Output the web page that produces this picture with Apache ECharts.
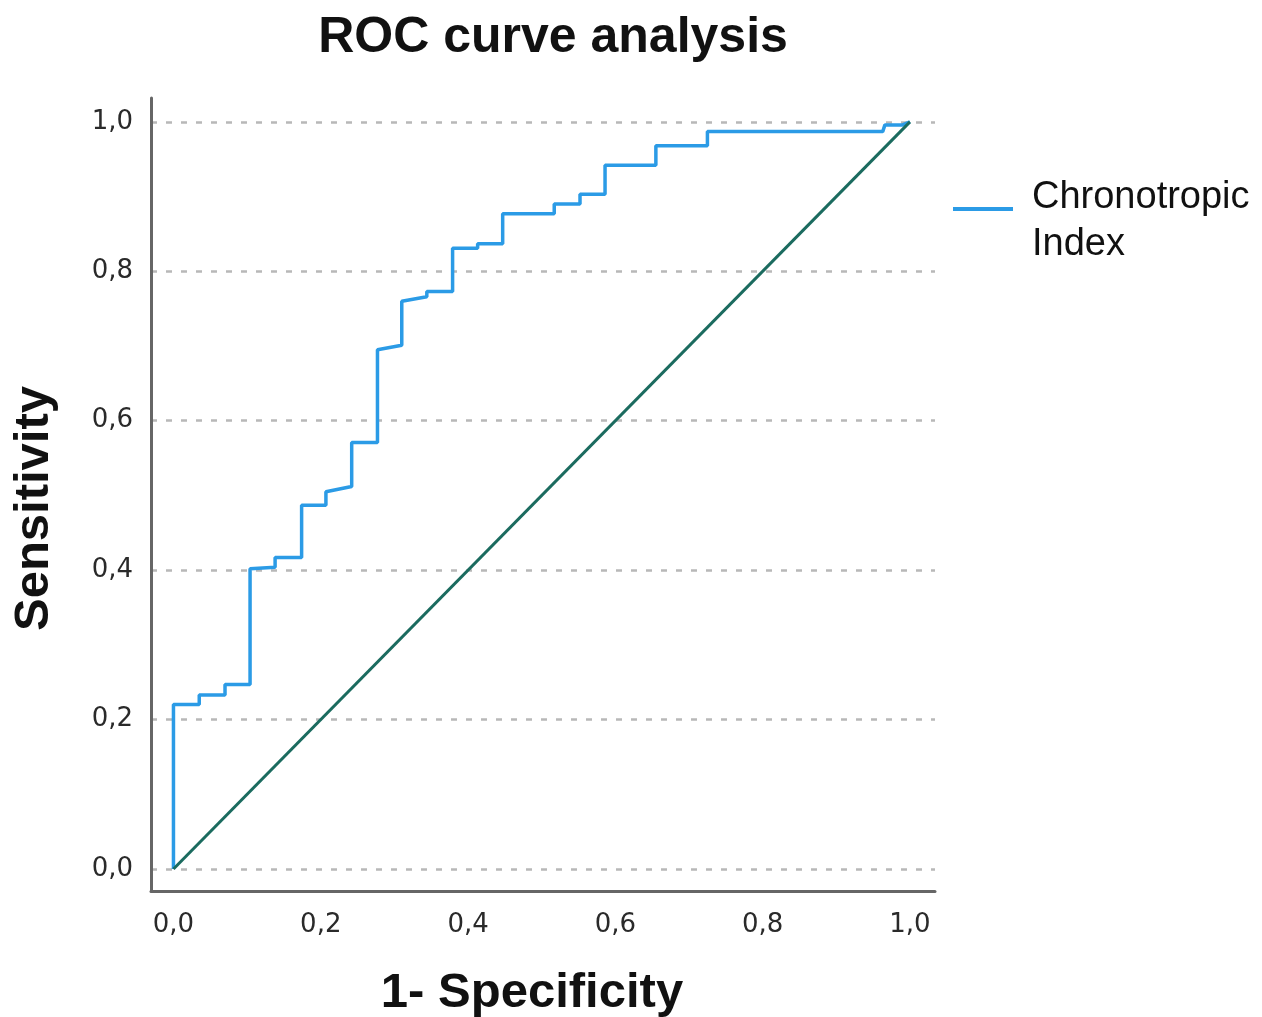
<!DOCTYPE html>
<html>
<head>
<meta charset="utf-8">
<script src="https://cdn.jsdelivr.net/npm/echarts@6/dist/echarts.min.js"></script>
<style>
  html, body { margin: 0; padding: 0; background: #fff; }
  #roc_chart { width: 1262px; height: 1017px; }
</style>
</head>
<body>
<div id="roc_chart"></div>
<script>
// ROC step curve (1 - specificity, sensitivity)
var fpr = [0, 0, 0.035, 0.035, 0.070, 0.070, 0.104, 0.104, 0.138, 0.138, 0.174, 0.174,
    0.207, 0.207, 0.242, 0.242, 0.277, 0.277, 0.310, 0.310, 0.344, 0.344, 0.379, 0.379,
    0.413, 0.413, 0.447, 0.447, 0.517, 0.517, 0.552, 0.552, 0.586, 0.586, 0.655, 0.655,
    0.725, 0.725, 0.963, 0.966, 0.990, 1.0];
var sensitivity = [0, 0.220, 0.220, 0.233, 0.233, 0.247, 0.247, 0.402, 0.404, 0.417, 0.417, 0.487,
    0.487, 0.505, 0.512, 0.571, 0.571, 0.695, 0.701, 0.760, 0.766, 0.773, 0.773, 0.831,
    0.831, 0.837, 0.837, 0.877, 0.877, 0.890, 0.890, 0.903, 0.903, 0.942, 0.942, 0.968,
    0.968, 0.987, 0.987, 0.996, 0.996, 1.0];
var refX = [0, 1];
var refY = [0, 1];
var ticks = [0, 0.2, 0.4, 0.6, 0.8, 1.0];

var rocData = fpr.map(function (x, i) { return [x, sensitivity[i]]; });
var refData = refX.map(function (x, i) { return [x, refY[i]]; });

function fmt(v) {
    return v.toFixed(1).replace('.', ',');
}

var chart = echarts.init(document.getElementById('roc_chart'));

chart.setOption({
    animation: false,
    title: {
        text: 'ROC curve analysis',
        left: 548,
        top: 8,
        textAlign: 'center',
        textStyle: {
            fontFamily: 'Liberation Sans',
            fontWeight: 'bold',
            fontSize: 50,
            color: '#111'
        }
    },
    legend: {
        data: ['Chronotropic\nIndex'],
        orient: 'vertical',
        left: 948,
        top: 169,
        // line sits in the top of the icon box, so it lines up with the first text line
        icon: 'path://M0,0L60,0L60,4L0,4Z M0,28L0.01,28Z',
        itemWidth: 60,
        itemHeight: 28,
        itemGap: 10,
        textStyle: {
            fontFamily: 'Liberation Sans',
            fontSize: 38,
            lineHeight: 47,
            color: '#111',
            padding: [0, 0, 0, 14]
        }
    },
    grid: {
        left: 151,
        right: 327,
        top: 98,
        bottom: 126,
        containLabel: false,
        outerBoundsMode: 'none'
    },
    xAxis: {
        type: 'value',
        min: -0.0305,
        max: 1.034,
        name: '1- Specificity',
        nameLocation: 'middle',
        nameGap: 78,
        nameTextStyle: {
            fontFamily: 'Liberation Sans',
            fontWeight: 'bold',
            fontSize: 49,
            color: '#111',
            padding: [0, 22, 0, 0]
        },
        axisLine: { show: true, onZero: false, lineStyle: { color: '#666', width: 3 } },
        axisTick: { show: false, customValues: ticks },
        axisLabel: {
            customValues: ticks,
            formatter: fmt,
            margin: 21,
            fontFamily: 'DejaVu Sans',
            fontSize: 26,
            color: '#2a2a2a'
        },
        splitLine: { show: false }
    },
    yAxis: {
        type: 'value',
        min: -0.0295,
        max: 1.032,
        name: 'Sensitivity',
        nameLocation: 'middle',
        nameGap: 92,
        nameTextStyle: {
            fontFamily: 'Liberation Sans',
            fontWeight: 'bold',
            fontSize: 49,
            color: '#111',
            padding: [0, 28, 0, 0]
        },
        axisLine: { show: true, onZero: false, lineStyle: { color: '#666', width: 3 } },
        axisTick: { show: false, customValues: ticks },
        axisLabel: {
            customValues: ticks,
            formatter: fmt,
            margin: 18,
            fontFamily: 'DejaVu Sans',
            fontSize: 26,
            color: '#2a2a2a'
        },
        splitLine: {
            show: true,
            lineStyle: { color: '#b8b8b8', width: 2.5, type: [6, 9] }
        }
    },
    series: [{
        name: 'Reference',
        type: 'line',
        data: refData,
        symbol: 'none',
        lineStyle: { color: '#1b6b5f', width: 3 },
        itemStyle: { color: '#1b6b5f' },
        z: 3
    }, {
        name: 'Chronotropic\nIndex',
        type: 'line',
        data: rocData,
        symbol: 'none',
        lineStyle: { color: '#2b9be6', width: 3.5 },
        itemStyle: { color: '#2b9be6' },
        z: 2
    }]
});
</script>
</body>
</html>
